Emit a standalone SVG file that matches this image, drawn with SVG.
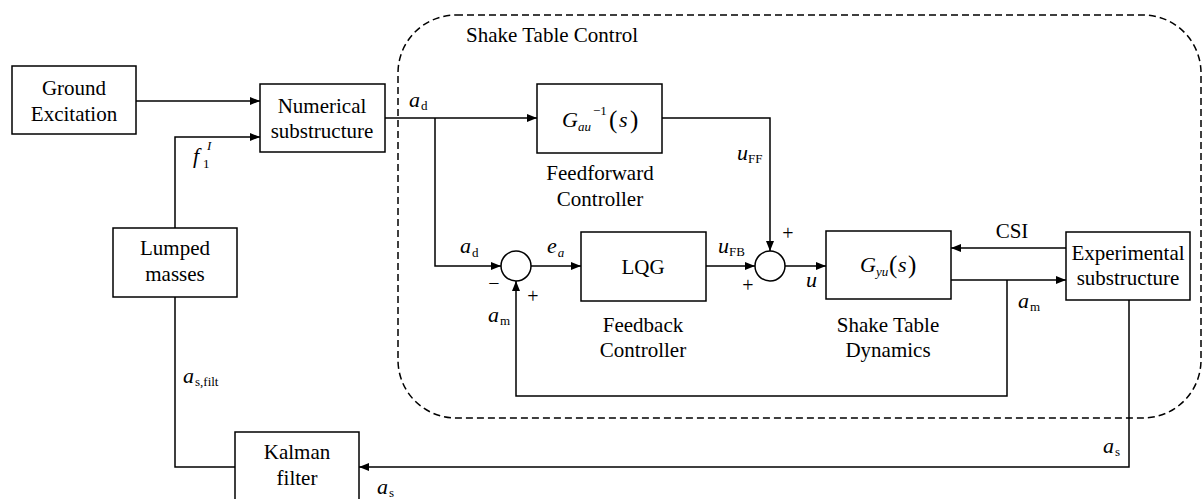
<svg xmlns="http://www.w3.org/2000/svg" width="1202" height="499" viewBox="0 0 1202 499">
<defs>
<style>
.box{fill:#fff;stroke:#000;stroke-width:1.5}
.ln{fill:none;stroke:#000;stroke-width:1.5}
.dash{fill:none;stroke:#000;stroke-width:1.5;stroke-dasharray:7 4}
text{font-family:"Times New Roman","Liberation Serif",Tinos,"DejaVu Serif",serif}
.t{font-size:21px;fill:#000;text-anchor:middle}
.m{font-size:22px;fill:#000;font-style:italic}
.s{font-size:13px;font-style:normal}
.si{font-size:13px;font-style:italic}
.sg{font-size:20px;fill:#000;text-anchor:middle}
</style>
<marker id="ah" markerWidth="10" markerHeight="8" refX="10" refY="4" orient="auto" markerUnits="userSpaceOnUse"><path d="M0,0 L10,4 L0,8 z" fill="#000"/></marker>
</defs>
<rect width="1202" height="499" fill="#fff"/>
<g id="shake-table-control">
<rect class="dash" x="398" y="15" width="803" height="403" rx="58" ry="58"/>
<text class="t" x="552" y="42">Shake Table Control</text>
</g>
<g id="connectors">
<path class="ln" d="M136 101 H260" marker-end="url(#ah)"/>
<path class="ln" d="M175 228 V137 H260" marker-end="url(#ah)"/>
<path class="ln" d="M175 297 V467 H235"/>
<path class="ln" d="M1129 300 V467 H359" marker-end="url(#ah)"/>
<path class="ln" d="M385 118 H537" marker-end="url(#ah)"/>
<path class="ln" d="M435 118 V266 H501" marker-end="url(#ah)"/>
<path class="ln" d="M662 118 H770 V251" marker-end="url(#ah)"/>
<path class="ln" d="M531 266 H581" marker-end="url(#ah)"/>
<path class="ln" d="M706 266 H755" marker-end="url(#ah)"/>
<path class="ln" d="M785 266 H826" marker-end="url(#ah)"/>
<path class="ln" d="M1066 248 H951" marker-end="url(#ah)"/>
<path class="ln" d="M951 280 H1066" marker-end="url(#ah)"/>
<path class="ln" d="M1007 280 V396 H516 V281" marker-end="url(#ah)"/>
</g>
<g id="labels">
<text class="m" x="409" y="107">a<tspan class="s" dx="1" dy="3">d</tspan></text>
<text class="m" x="460" y="253">a<tspan class="s" dx="1" dy="4">d</tspan></text>
<text class="m" x="547" y="253">e<tspan class="si" dx="1" dy="4">a</tspan></text>
<text class="m" x="718" y="253">u<tspan class="s" dx="0" dy="3">FB</tspan></text>
<text class="m" x="737" y="160">u<tspan class="s" dx="0" dy="3">FF</tspan></text>
<text class="m" x="488" y="322">a<tspan class="s" dx="1" dy="3">m</tspan></text>
<text class="m" x="1018" y="308">a<tspan class="s" dx="1" dy="3">m</tspan></text>
<text class="m" x="806" y="287">u</text>
<text class="m" x="193" y="163">f<tspan class="s" x="203" y="168">1</tspan><tspan class="si" x="207" y="150">I</tspan></text>
<text class="m" x="183" y="383">a<tspan class="s" dx="1" dy="3">s,filt</tspan></text>
<text class="m" x="377" y="494">a<tspan class="s" dx="1" dy="3">s</tspan></text>
<text class="m" x="1103" y="453">a<tspan class="s" dx="1" dy="3">s</tspan></text>
<text class="sg" x="494" y="290">−</text>
<text class="sg" x="533" y="303">+</text>
<text class="sg" x="788" y="240">+</text>
<text class="sg" x="748" y="292">+</text>
<text class="t" x="1012" y="238">CSI</text>
</g>
<g id="ground-excitation">
<rect class="box" x="12" y="66" width="124" height="68"/>
<text class="t" x="74" y="95">Ground</text>
<text class="t" x="74" y="121">Excitation</text>
</g>
<g id="numerical-substructure">
<rect class="box" x="260" y="84" width="125" height="68"/>
<text class="t" x="322" y="113">Numerical</text>
<text class="t" x="322" y="138">substructure</text>
</g>
<g id="lumped-masses">
<rect class="box" x="113" y="228" width="124" height="69"/>
<text class="t" x="175" y="255">Lumped</text>
<text class="t" x="175" y="281">masses</text>
</g>
<g id="kalman-filter">
<rect class="box" x="235" y="432" width="124" height="72"/>
<text class="t" x="297" y="459">Kalman</text>
<text class="t" x="297" y="485">filter</text>
</g>
<g id="feedforward-controller">
<rect class="box" x="537" y="84" width="125" height="69"/>
<text class="m" x="562" y="127">G<tspan class="si" x="578" y="131">au</tspan><tspan class="s" x="593" y="115">−1</tspan><tspan font-style="normal" font-size="25" x="609" y="128">(</tspan><tspan x="619" y="127">s</tspan><tspan font-style="normal" font-size="25" x="630" y="128">)</tspan></text>
<text class="t" x="600" y="180">Feedforward</text>
<text class="t" x="600" y="206">Controller</text>
</g>
<g id="sum1"><circle class="box" cx="516" cy="266" r="15"/></g>
<g id="sum2"><circle class="box" cx="770" cy="266" r="15"/></g>
<g id="feedback-controller">
<rect class="box" x="581" y="232" width="125" height="69"/>
<text class="t" x="643" y="274">LQG</text>
<text class="t" x="643" y="332">Feedback</text>
<text class="t" x="643" y="357">Controller</text>
</g>
<g id="shake-table-dynamics">
<rect class="box" x="826" y="231" width="125" height="68"/>
<text class="m" x="860" y="272">G<tspan class="si" x="876" y="276">yu</tspan><tspan font-style="normal" font-size="25" x="889" y="273">(</tspan><tspan x="898" y="272">s</tspan><tspan font-style="normal" font-size="25" x="908" y="273">)</tspan></text>
<text class="t" x="888" y="332">Shake Table</text>
<text class="t" x="888" y="357">Dynamics</text>
</g>
<g id="experimental-substructure">
<rect class="box" x="1066" y="232" width="124" height="68"/>
<text class="t" x="1128" y="260">Experimental</text>
<text class="t" x="1128" y="285">substructure</text>
</g>
</svg>
